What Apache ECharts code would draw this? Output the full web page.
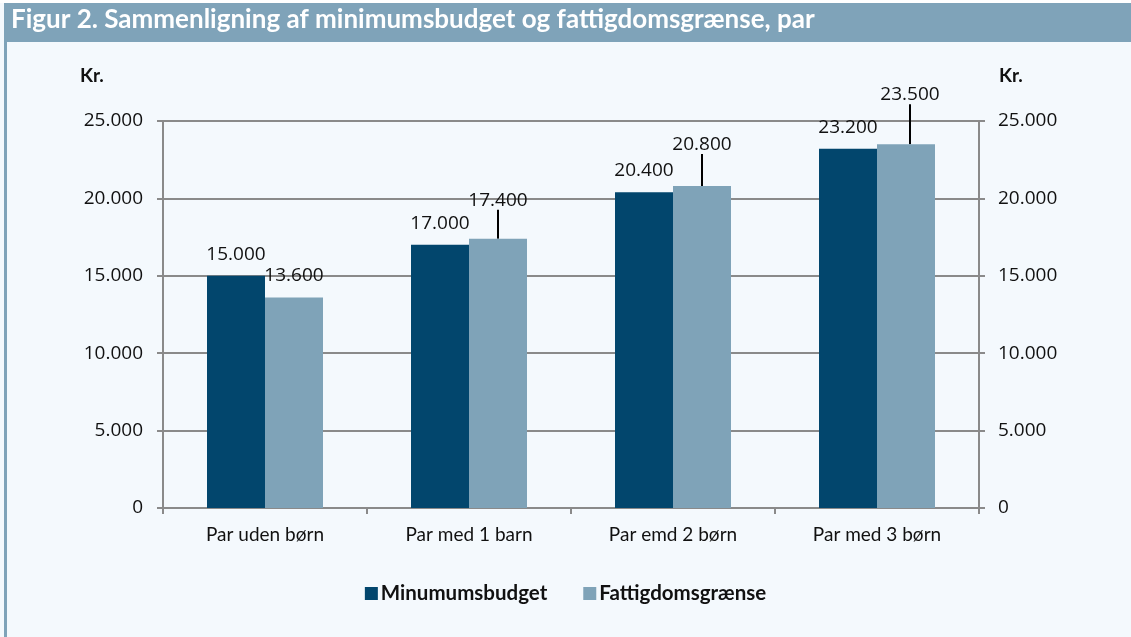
<!DOCTYPE html>
<html><head><meta charset="utf-8">
<script src="https://cdn.jsdelivr.net/npm/echarts@6/dist/echarts.min.js"></script>
<style>html,body{margin:0;padding:0;background:#fff}#c{width:1131px;height:637px}</style>
</head><body><div id="c"></div>
<script>
const title = 'Figur 2. Sammenligning af minimumsbudget og fattigdomsgrænse, par';
const categories = ['Par uden børn', 'Par med 1 barn', 'Par emd 2 børn', 'Par med 3 børn'];
const seriesNames = ['Minumumsbudget', 'Fattigdomsgrænse'];
const minimumsbudget = [15000, 17000, 20400, 23200];
const fattigdomsgraense = [13600, 17400, 20800, 23500];
const yTicks = [0, 5000, 10000, 15000, 20000, 25000];

// label displacement (style only) for the light series
const lightLabelShift = [[0, 0], [0, -17], [0, -20], [4, -28]];

const fmt = v => String(v).replace(/\B(?=(\d{3})+(?!\d))/g, '.');
const axisLbl = {fontFamily: 'Open Sans', fontSize: 19, color: '#111'};

const chart = echarts.init(document.getElementById('c'));
chart.setOption({
  backgroundColor: '#F4F9FD',
  animation: false,
  graphic: [
    {type: 'rect', shape: {x: 0, y: 0, width: 1131, height: 3}, style: {fill: '#ffffff'}},
    {type: 'rect', shape: {x: 4, y: 3, width: 1127, height: 39}, style: {fill: '#7FA3B9'}},
    {type: 'rect', shape: {x: 4, y: 42, width: 3, height: 595}, style: {fill: '#7FA3B9'}},
    {type: 'text', left: 11, top: 7, style: {text: title, font: 'bold 26px Lato', fill: '#ffffff'}},
    {type: 'text', left: 80, top: 66, style: {text: 'Kr.', font: 'bold 19px Lato', fill: '#111'}},
    {type: 'text', left: 999, top: 66, style: {text: 'Kr.', font: 'bold 19px Lato', fill: '#111'}}
  ],
  grid: {left: 163, right: 152, top: 121, bottom: 129},
  legend: {
    bottom: 28, left: 'center', itemGap: 36,
    itemWidth: 13, itemHeight: 13, icon: 'rect',
    textStyle: {fontFamily: 'Lato', fontWeight: 'bold', fontSize: 20.5, color: '#111', padding: [0, 0, 0, -2]},
    data: seriesNames
  },
  xAxis: {
    type: 'category', data: categories,
    axisLine: {lineStyle: {color: '#8a8a8a', width: 2}},
    axisTick: {show: true, length: 6, lineStyle: {color: '#8a8a8a', width: 2}},
    axisLabel: {fontFamily: 'Lato', fontSize: 19, color: '#111', margin: 17}
  },
  yAxis: [
    {
      type: 'value', min: yTicks[0], max: yTicks[yTicks.length - 1], interval: 5000,
      axisLine: {show: true, lineStyle: {color: '#8a8a8a', width: 2}},
      axisTick: {show: true, length: 6, lineStyle: {color: '#8a8a8a', width: 2}},
      splitLine: {lineStyle: {color: '#8a8a8a', width: 2}},
      axisLabel: Object.assign({formatter: fmt, margin: 20}, axisLbl)
    },
    {
      type: 'value', position: 'right', min: yTicks[0], max: yTicks[yTicks.length - 1], interval: 5000,
      axisLine: {show: true, lineStyle: {color: '#8a8a8a', width: 2}},
      axisTick: {show: true, length: 6, lineStyle: {color: '#8a8a8a', width: 2}},
      splitLine: {show: false},
      axisLabel: Object.assign({formatter: fmt, margin: 19}, axisLbl)
    }
  ],
  series: [
    {
      name: seriesNames[0], type: 'bar', data: minimumsbudget, barWidth: 58, barGap: '0%',
      itemStyle: {color: '#02466D'},
      label: {show: true, position: 'top', distance: 12, formatter: p => fmt(p.value),
              fontFamily: 'Open Sans', fontSize: 19, color: '#111'}
    },
    {
      name: seriesNames[1], type: 'bar', barWidth: 58,
      data: fattigdomsgraense.map((v, i) => ({
        value: v,
        labelLine: {show: !!(lightLabelShift[i][0] || lightLabelShift[i][1])}
      })),
      itemStyle: {color: '#7FA3B8'},
      label: {show: true, position: 'top', distance: 12, formatter: p => fmt(p.value),
              fontFamily: 'Open Sans', fontSize: 19, color: '#111'},
      labelLine: {show: true, lineStyle: {color: '#000', width: 2}},
      labelLayout: p => {
        const s = lightLabelShift[p.dataIndex];
        return (s[0] || s[1]) ? {dx: s[0], dy: s[1]} : {};
      }
    }
  ]
});
</script></body></html>
